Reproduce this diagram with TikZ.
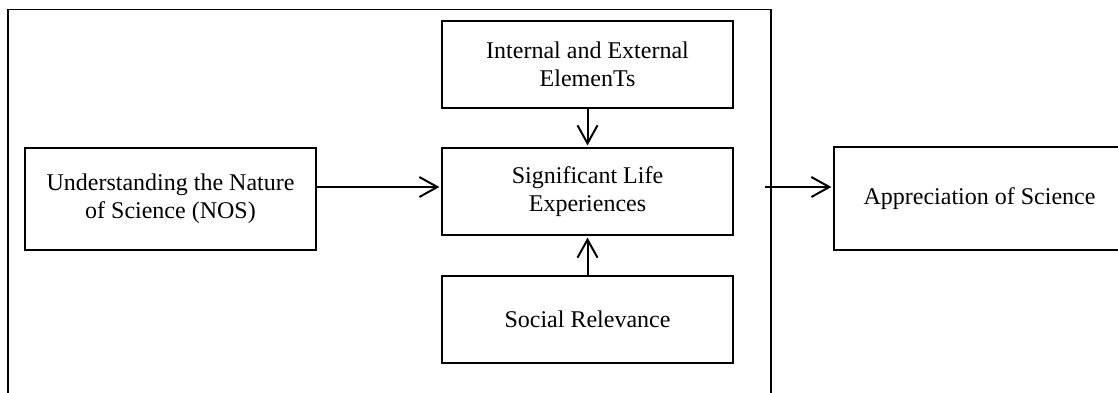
\documentclass[tikz,border=0pt]{standalone}
\usepackage{fontspec}
\setmainfont{Liberation Serif}
\usetikzlibrary{positioning,arrows.meta}

\begin{document}
\begin{tikzpicture}[x=0.5pt,y=-0.5pt,every node/.style={draw,line width=0.6pt,align=center,inner sep=0pt,font=\fontsize{12}{14}\selectfont},box/.style={minimum width=145.5pt,minimum height=43.5pt}]

\useasboundingbox (0,0) rectangle (1118,392);
\clip (0,0) rectangle (1118,392);
\draw[line width=0.75pt] (8,9.5) rectangle (771,420);

\node[box](int) at (587.5,64.5) {Internal and External\\ElemenTs};
\node[box](sig) at (587.5,191.5) {Significant Life\\Experiences};
\node[box](soc) at (587.5,319.5) {Social Relevance};
\node[box,minimum height=51pt](nos) at (170.5,199) {Understanding the Nature\\of Science (NOS)};
\node[box,minimum height=51.5pt](app) at (979.5,198.5) {Appreciation of Science};
\coordinate(out) at (765,187);

\foreach \a/\b in {int.south/sig.north,soc.north/sig.south,nos.east |- out/sig.west |- out,out/app.west |- out}{
	\draw[->,>={Straight Barb[length=9pt,width=10pt]},line width=1pt,shorten >=1pt](\a)--(\b);
}

\end{tikzpicture}
\end{document}
